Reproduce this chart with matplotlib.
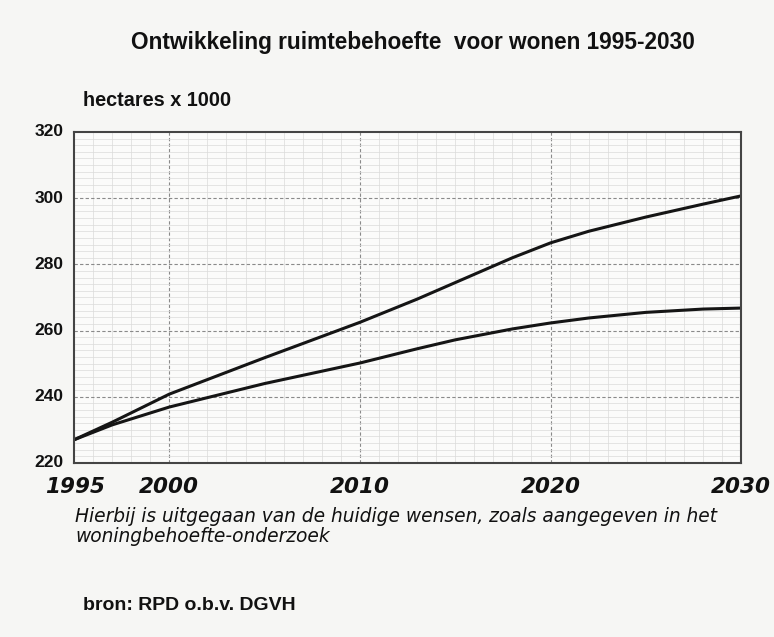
import numpy as np
import matplotlib
matplotlib.use("Agg")
import matplotlib.pyplot as plt
from matplotlib.ticker import MultipleLocator

# ---------------------- data ----------------------
years_high = [1995, 1997, 2000, 2005, 2010, 2013, 2015, 2018, 2020, 2022, 2025, 2028, 2030]
ha_high = [227, 232.3, 240.8, 251.8, 262.5, 269.5, 274.5, 282.0, 286.5, 290.0, 294.3, 298.2, 300.7]

years_low = [1995, 1997, 2000, 2005, 2010, 2013, 2015, 2018, 2020, 2022, 2025, 2028, 2030]
ha_low = [227, 231.5, 236.9, 244.0, 250.2, 254.5, 257.2, 260.5, 262.3, 263.8, 265.5, 266.5, 266.8]

x_ticks = [1995, 2000, 2010, 2020, 2030]
y_ticks = [220, 240, 260, 280, 300, 320]

plt.rcParams["font.family"] = ["Liberation Sans", "DejaVu Sans"]

fig = plt.figure(figsize=(7.74, 6.37), dpi=100)
fig.patch.set_facecolor("#f6f6f4")
ax = fig.add_axes([0.0956, 0.2732, 0.862, 0.5196])
ax.set_facecolor("#fbfbfa")

ax.plot(years_high, ha_high, color="#151515", linewidth=2.2, solid_capstyle="butt")
ax.plot(years_low, ha_low, color="#151515", linewidth=2.2, solid_capstyle="butt")

ax.set_xlim(1995, 2030)
ax.set_ylim(220, 320)

# grid: fijn raster + gestippelde hoofdlijnen
ax.xaxis.set_minor_locator(MultipleLocator(1))
ax.yaxis.set_minor_locator(MultipleLocator(2))
ax.grid(which="minor", color="#dadada", linewidth=0.5, linestyle="-")
ax.set_xticks([2000, 2010, 2020])
ax.set_yticks([240, 260, 280, 300])
ax.grid(which="major", color="#8a8a8a", linewidth=0.8, linestyle=(0, (3, 2)))
ax.tick_params(which="both", length=0, labelbottom=False, labelleft=False)
ax.set_axisbelow(True)

for s in ax.spines.values():
    s.set_color("#444444")
    s.set_linewidth(1.5)

# tick labels as text so they sit like the original
for y in y_ticks:
    ax.text(-0.016, (y - 220) / 100, str(y), transform=ax.transAxes,
            ha="right", va="center", fontsize=12.5, fontweight="bold", color="#111111")
for x in x_ticks:
    xx = (x - 1995) / 35
    if x == 1995:
        xx += 0.002
    ax.text(xx, -0.072, str(x), transform=ax.transAxes, ha="center", va="center",
            fontsize=15.5, fontweight="bold", fontstyle="italic", color="#111111",
            family="DejaVu Sans")

fig.text(0.533, 0.934, "Ontwikkeling ruimtebehoefte  voor wonen 1995-2030",
         ha="center", va="center", fontsize=16.3, fontweight="bold", color="#111111")
fig.text(0.107, 0.843, "hectares x 1000", ha="left", va="center",
         fontsize=14.3, fontweight="bold", color="#111111")
fig.text(0.097, 0.174, "Hierbij is uitgegaan van de huidige wensen, zoals aangegeven in het\nwoningbehoefte-onderzoek",
         ha="left", va="center", fontsize=13.4, fontstyle="italic", color="#111111",
         linespacing=1.05, family="DejaVu Sans")
fig.text(0.107, 0.05, "bron: RPD o.b.v. DGVH", ha="left", va="center",
         fontsize=14.0, fontweight="bold", color="#111111")

fig.savefig("out.png", dpi=100, facecolor=fig.get_facecolor())
